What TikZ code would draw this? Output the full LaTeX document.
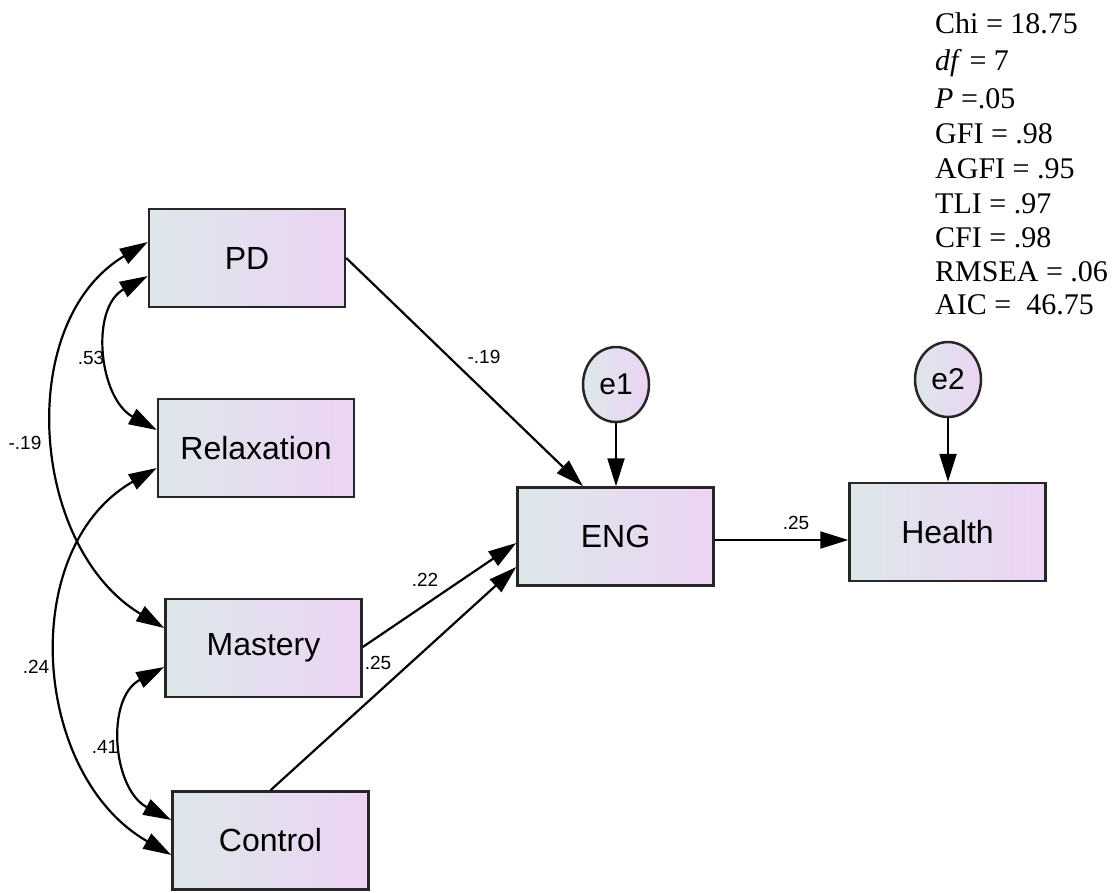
\documentclass[tikz,border=0pt]{standalone}
\usepackage{fontspec}
\setmainfont{Liberation Serif}
\newfontfamily\sansfnt{Liberation Sans}
\usetikzlibrary{arrows.meta,shapes.geometric}
\definecolor{boxleft}{RGB}{221,231,234}
\definecolor{boxright}{RGB}{236,212,244}
\begin{document}
\begin{tikzpicture}[x=1pt,y=-1pt,
  var/.style={draw=black!85, line width=2.5pt, left color=boxleft, right color=boxright,
    minimum width=196pt, minimum height=98pt, inner sep=0pt,
    font=\sansfnt\fontsize{32}{37}\selectfont},
  err/.style={ellipse, draw=black!85, line width=2.5pt, left color=boxleft, right color=boxright,
    minimum width=66pt, minimum height=75pt, inner sep=0pt,
    font=\sansfnt\fontsize{30}{35}\selectfont},
  tip/.tip={Triangle[length=28pt,width=17pt]},
  causal/.style={draw, line width=2.2pt, -tip},
  covar/.style={draw, line width=2.2pt, tip-tip},
  coef/.style={font=\sansfnt\fontsize{19}{22}\selectfont, inner sep=0pt},
  statline/.style={anchor=base west, inner sep=0pt, font=\fontsize{30}{35}\selectfont}
]
\useasboundingbox (0,0) rectangle (1115,892);

% observed variables
\node[var] (PD)      at (247,258)   {PD};
\node[var] (Relax)   at (256,448)   {Relaxation};
\node[var] (Mastery) at (263.5,648) {Mastery};
\node[var] (Control) at (270.5,840.5) {Control};
\node[var] (ENG)     at (615.5,536.5) {ENG};
\node[var] (Health)  at (947.5,532) {Health};

% error terms
\node[err] (e1) at (616,384.5) {e1};
\node[err] (e2) at (948,379.5) {e2};

% regression paths
\draw[causal] (PD.east) -- (ENG.north -| 583,0);
\draw[causal] (Mastery.east |- 0,647) -- (ENG.west |- 0,543);
\draw[causal] (Control.north) -- (ENG.west |- 0,567);
\draw[causal] (ENG.east |- 0,540) -- (Health.west |- 0,540);
\draw[causal] (e1.south) -- (e1.south |- ENG.north);
\draw[causal] (e2.south) -- (e2.south |- Health.north);

% covariances
\draw[covar] (PD.west |- 0,242) .. controls +(-134,80) and +(-134,-80) .. (Mastery.west |- 0,628);
\draw[covar] (PD.west |- 0,276) .. controls +(-58,32) and +(-58,-32) .. (Relax.west |- 0,430);
\draw[covar] (Relax.west |- 0,468) .. controls +(-140,80) and +(-140,-80) .. (Control.west |- 0,855);
\draw[covar] (Mastery.west |- 0,667) .. controls +(-59,31) and +(-59,-31) .. (Control.west |- 0,820);

% coefficients
\node[coef] (c1) at (91,358)  {.53};
\node[coef] (c2) at (25,443)  {-.19};
\node[coef] (c3) at (36,667)  {.24};
\node[coef] (c4) at (105,747) {.41};
\node[coef] (c5) at (484,357) {-.19};
\node[coef] (c6) at (425,580) {.22};
\node[coef] (c7) at (378,663) {.25};
\node[coef] (c8) at (796,523) {.25};

% fit statistics
\node[statline] (s1) at (935,33)    {Chi = 18.75};
\node[statline] (s2) at (935,70.5)  {\textit{df} = 7};
\node[statline] (s3) at (935,108)   {\textit{P} =.05};
\node[statline] (s4) at (935,143)   {GFI = .98};
\node[statline] (s5) at (935,178)   {AGFI = .95};
\node[statline] (s6) at (935,213)   {TLI = .97};
\node[statline] (s7) at (935,247)   {CFI = .98};
\node[statline] (s8) at (935,281)   {RMSEA = .06};
\node[statline] (s9) at (935,314)   {AIC =\ \ 46.75};
\end{tikzpicture}
\end{document}
